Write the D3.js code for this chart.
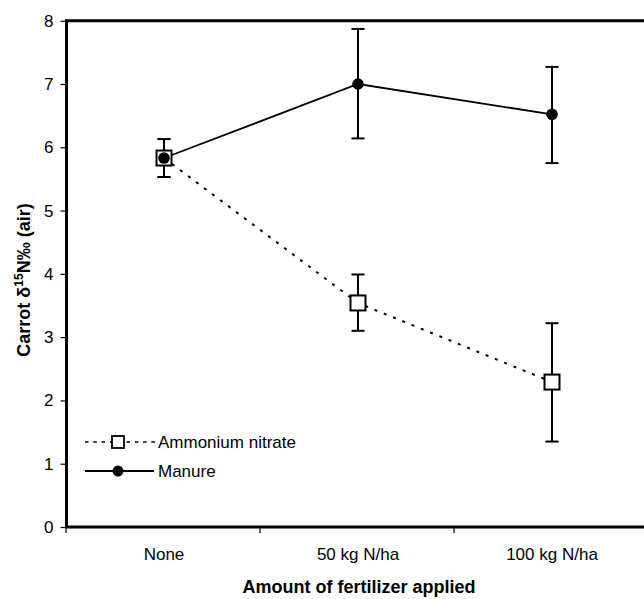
<!DOCTYPE html>
<html>
<head>
<meta charset="utf-8">
<script src="https://cdn.jsdelivr.net/npm/d3@7"></script>
<style>
  body { margin: 0; background: #fff; }
  text { font-family: "Liberation Sans", Arial, sans-serif; }
</style>
</head>
<body>
<svg id="chart" width="644" height="599"></svg>
<script>
const categories = ["None", "50 kg N/ha", "100 kg N/ha"];
const yTicks = [0, 1, 2, 3, 4, 5, 6, 7, 8];

const ammoniumMean = [5.83, 3.54, 2.29];
const ammoniumLow = [5.53, 3.10, 1.35];
const ammoniumHigh = [6.13, 3.99, 3.22];

const manureMean = [5.83, 7.00, 6.52];
const manureLow = [5.53, 6.14, 5.75];
const manureHigh = [6.13, 7.87, 7.27];

const margin = {top: 20.7, left: 67, bottom: 72};
const width = 644, height = 599;
const fontSize = 17;

const svg = d3.select("#chart");

const x = d3.scaleBand()
  .domain(categories)
  .range([margin.left, margin.left + 3 * 194]);

const y = d3.scaleLinear()
  .domain([0, 8])
  .range([height - margin.bottom, margin.top]);

const cx = d => x(d) + x.bandwidth() / 2;

// frame (open on the right, it runs off the page)
svg.append("path")
  .attr("d", `M${width + 5},${y(8)}H${margin.left - 0.5}V${y(0)}H${width + 5}`)
  .attr("fill", "none")
  .attr("stroke", "#000")
  .attr("stroke-width", 3);

// y axis ticks
const yAxis = svg.append("g")
  .attr("transform", `translate(${margin.left - 1.5},0)`)
  .call(d3.axisLeft(y).tickValues(yTicks).tickSize(5).tickPadding(7));
yAxis.select(".domain").remove();
yAxis.selectAll("line").attr("stroke-width", 1.2);
yAxis.selectAll("text").attr("font-size", fontSize).attr("fill", "#000")
  .attr("font-family", "Liberation Sans, Arial, sans-serif");

// x axis ticks at band boundaries
const xBoundaries = [0, 1, 2, 3].map(i => margin.left - 1 + i * x.bandwidth());
svg.selectAll(".xtick")
  .data(xBoundaries).enter()
  .append("line")
  .attr("x1", d => d).attr("x2", d => d)
  .attr("y1", y(0)).attr("y2", y(0) + 6)
  .attr("stroke", "#000").attr("stroke-width", 1.2);

svg.selectAll(".xlabel")
  .data(categories).enter()
  .append("text")
  .attr("x", cx)
  .attr("y", y(0) + 33)
  .attr("text-anchor", "middle")
  .attr("font-size", fontSize)
  .text(d => d);

// axis titles
svg.append("text")
  .attr("x", 359).attr("y", 593)
  .attr("text-anchor", "middle")
  .attr("font-size", 18).attr("font-weight", "bold")
  .text("Amount of fertilizer applied");

const yt = svg.append("text")
  .attr("transform", `translate(30,280) rotate(-90)`)
  .attr("text-anchor", "middle")
  .attr("font-size", 18).attr("font-weight", "bold");
yt.append("tspan").text("Carrot δ");
yt.append("tspan").attr("font-size", 12).attr("dy", -7).text("15");
yt.append("tspan").attr("dy", 7).text("N‰ (air)");

// lines
const line = d3.line()
  .x((d, i) => cx(categories[i]))
  .y(d => y(d));

svg.append("path")
  .datum(ammoniumMean)
  .attr("d", line)
  .attr("fill", "none").attr("stroke", "#000")
  .attr("stroke-width", 2).attr("stroke-dasharray", "3,7");

svg.append("path")
  .datum(manureMean)
  .attr("d", line)
  .attr("fill", "none").attr("stroke", "#000")
  .attr("stroke-width", 1.8);

// error bars
function errorBars(low, high) {
  const g = svg.append("g").attr("stroke", "#000").attr("stroke-width", 2);
  categories.forEach((c, i) => {
    g.append("line").attr("x1", cx(c)).attr("x2", cx(c))
      .attr("y1", y(low[i])).attr("y2", y(high[i]));
    [low[i], high[i]].forEach(v => {
      g.append("line").attr("x1", cx(c) - 6.5).attr("x2", cx(c) + 6.5)
        .attr("y1", y(v)).attr("y2", y(v));
    });
  });
}
errorBars(ammoniumLow, ammoniumHigh);
errorBars(manureLow, manureHigh);

// markers
const sq = 15;
svg.selectAll(".sq")
  .data(ammoniumMean).enter()
  .append("rect")
  .attr("x", (d, i) => cx(categories[i]) - sq / 2)
  .attr("y", d => y(d) - sq / 2)
  .attr("width", sq).attr("height", sq)
  .attr("fill", "#fff").attr("stroke", "#000").attr("stroke-width", 2);

svg.selectAll(".dot")
  .data(manureMean).enter()
  .append("circle")
  .attr("cx", (d, i) => cx(categories[i]))
  .attr("cy", d => y(d))
  .attr("r", 5.8)
  .attr("fill", "#000");

// legend
const leg = svg.append("g");
leg.append("line").attr("x1", 85).attr("x2", 155).attr("y1", 442).attr("y2", 442)
  .attr("stroke", "#000").attr("stroke-width", 1.6).attr("stroke-dasharray", "3.5,4.8");
leg.append("rect").attr("x", 112).attr("y", 436).attr("width", 12).attr("height", 12)
  .attr("fill", "#fff").attr("stroke", "#000").attr("stroke-width", 1.8);
leg.append("text").attr("x", 158).attr("y", 448).attr("font-size", fontSize).text("Ammonium nitrate");

leg.append("line").attr("x1", 85).attr("x2", 154).attr("y1", 471).attr("y2", 471)
  .attr("stroke", "#000").attr("stroke-width", 1.8);
leg.append("circle").attr("cx", 118).attr("cy", 471).attr("r", 5.5).attr("fill", "#000");
leg.append("text").attr("x", 158).attr("y", 477).attr("font-size", fontSize).text("Manure");
</script>
</body>
</html>
